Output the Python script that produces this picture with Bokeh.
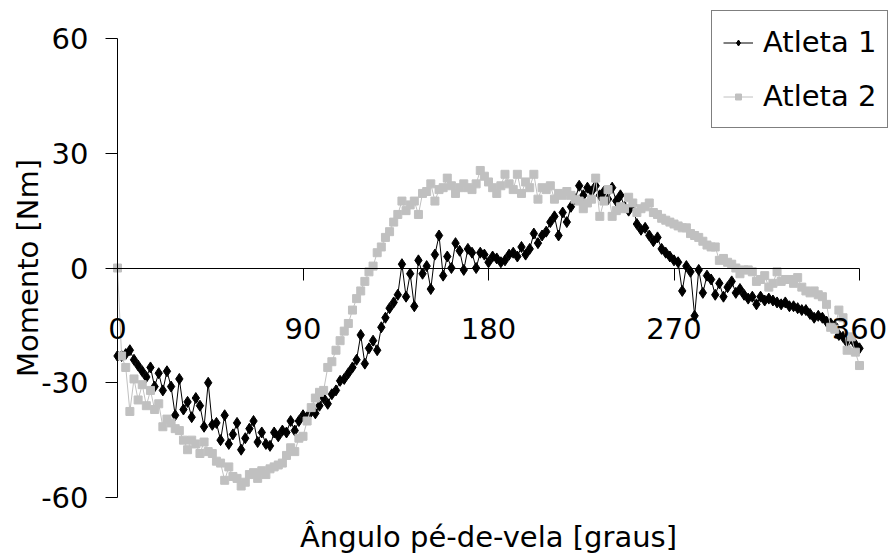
from bokeh.plotting import figure
from bokeh.models import Range1d, FixedTicker, LinearAxis, Legend, LegendItem
from bokeh.embed import file_html
from bokeh.resources import INLINE

FONT = "DejaVu Sans"
FONT_SIZE = "29px"

# Crank angle [degrees] and pedal moment [Nm] for each athlete
angle_a1 = list(range(0, 361, 2))
moment_a1 = [
    -23, -23, -22.5, -21.5, -24, -25.5, -27, -28.5, -26, -31,
    -27.5, -32, -27, -31, -38.5, -29, -37, -35, -39, -34,
    -36, -41.5, -30, -41, -40.5, -45, -38.5, -46, -43.5, -40.5,
    -47.5, -44.5, -42, -40, -45.5, -43, -46, -46.5, -43, -44,
    -42.5, -43, -40, -42.5, -40, -38.5, -39, -37.5, -38, -36,
    -34, -35.5, -33, -32, -29.5, -29, -27.5, -26, -24, -17.5,
    -25, -21, -19, -21.5, -15.5, -13, -10.5, -9, -7, 1,
    -7.5, -1.5, -10, 2, -1.5, 0.5, -5.5, 3.5, 8.5, -2,
    3, 0, 6.5, 4.5, -0.5, 5, 4, 0, 4, 3.5,
    1.5, 3, 2.5, 1.5, 2, 3.5, 4, 3, 5.5, 3.5,
    5, 9, 6.5, 8.5, 9.5, 12, 13.5, 8.5, 14.5, 12,
    16, 18, 21.5, 19, 21, 20, 21.5, 19, 20, 18,
    21, 17.5, 19, 16, 15, 16.5, 11.5, 10, 10.5, 8.5,
    7, 8, 5, 4, 3, 2, 1.5, -6, 0.5, -1,
    -12.5, -0.5, -6.5, -2, -3, -7, -4, -7.5, -5, -3.5,
    -6.5, -5.5, -7, -8, -7.5, -9.5, -7.5, -8.5, -8, -8.5,
    -9, -9.5, -9, -10, -10, -10.5, -11, -11, -12, -13,
    -12.5, -13, -14, -14.5, -15, -17.5, -18, -19.5, -18.5, -20,
    -21,
]

angle_a2 = list(range(0, 361, 2))
moment_a2 = [
    0, -23, -26, -37.5, -29, -34.5, -30.5, -36, -32, -37,
    -35.5, -41.5, -39.5, -40.5, -42, -42.5, -45, -47.5, -45, -46,
    -48.5, -45.5, -48, -48.5, -50.5, -51, -55.5, -52, -54.5, -55,
    -57, -56, -54, -53.5, -55, -53, -54, -52.5, -52, -51.5,
    -51, -49, -47, -48, -44.5, -44, -40, -36.5, -34, -32.5,
    -32, -26, -24.5, -21.5, -19, -16.5, -14.5, -11, -8, -6,
    -3.5, -1, 0.5, 4, 5.5, 8, 9.5, 12, 14, 17.5,
    15, 16.5, 17.5, 14, 19.5, 20, 22, 17.5, 20.5, 21,
    23.5, 21.5, 19.5, 21, 22, 21, 20.5, 22, 25.5, 24,
    22.5, 21, 19.5, 21.5, 24.5, 22, 20.5, 24.5, 19.5, 22.5,
    21, 24.5, 18, 21, 20.5, 21.5, 18, 19.5, 19, 20,
    19, 18, 17.5, 15.5, 17, 18, 23.5, 13.5, 17.5, 20.5,
    13.5, 15, 16, 15.5, 18.5, 17, 14.5, 15.5, 16, 17,
    14.5, 14, 13, 12.5, 12, 11.5, 11, 10.5, 10.5, 9,
    8.5, 8, 7, 6, 5.5, 5.5, 2, 2.5, 1.5, 1,
    0, -1.5, -0.5, -0.5, -1, -3.5, -3, -2, -5, -4,
    -1, -3.5, -3, -3, -4, -2.5, -5, -6, -6.5, -6,
    -7, -7.5, -9.5, -15.5, -16, -11, -13, -21.5, -18, -22,
    -25.5,
]

series_names = ["Atleta 1", "Atleta 2"]
x_ticks = [0, 90, 180, 270, 360]
y_ticks = [-60, -30, 0, 30, 60]
y_tick_text = {t: str(t) for t in y_ticks}

# Canvas layout: data box (0..360, -60..60) sits at these pixel edges
W, H = 889, 558
BOX_L, BOX_R, BOX_T, BOX_B = 117, 859, 38, 497
X0, X1, Y0, Y1 = 0, 360, -60, 60
ppx = (BOX_R - BOX_L) / (X1 - X0)
ppy = (BOX_B - BOX_T) / (Y1 - Y0)
x_range = Range1d(X0 - BOX_L / ppx, X1 + (W - BOX_R) / ppx)
y_range = Range1d(Y0 - (H - BOX_B) / ppy, Y1 + BOX_T / ppy)

p = figure(
    width=W, height=H,
    x_range=x_range, y_range=y_range,
    output_backend="svg", toolbar_location=None,
    min_border=0,
)
p.grid.visible = False
p.outline_line_color = None
p.background_fill_color = "white"
p.border_fill_color = "white"

# Athlete 1: black line with diamonds; athlete 2: light grey line with squares
l1 = p.line(angle_a1, moment_a1, line_color="black", line_width=1)
m1 = p.scatter(angle_a1, moment_a1, marker="diamond", size=11,
               fill_color="black", line_color="black")
l2 = p.line(angle_a2, moment_a2, line_color="#c0c0c0", line_width=1)
m2 = p.scatter(angle_a2, moment_a2, marker="square", size=8,
               fill_color="#c0c0c0", line_color="#c0c0c0")

# Horizontal axis crosses at zero moment
xa = p.xaxis[0]
xa.fixed_location = 0
xa.bounds = (X0, X1)
xa.ticker = FixedTicker(ticks=x_ticks)
xa.major_tick_out = 12
xa.major_tick_in = 0
xa.minor_tick_out = 0
xa.minor_tick_in = 0
xa.major_label_standoff = 38
xa.major_label_text_font = FONT
xa.major_label_text_font_size = FONT_SIZE
xa.major_label_text_color = "black"
xa.axis_line_color = "black"
xa.major_tick_line_color = "black"

# Vertical axis at zero angle
ya = p.yaxis[0]
ya.fixed_location = 0
ya.bounds = (Y0, Y1)
ya.ticker = FixedTicker(ticks=y_ticks)
ya.major_label_overrides = y_tick_text
ya.major_tick_out = 12
ya.major_tick_in = 0
ya.minor_tick_out = 0
ya.minor_tick_in = 0
ya.major_label_standoff = 17
ya.major_label_text_font = FONT
ya.major_label_text_font_size = FONT_SIZE
ya.major_label_text_color = "black"
ya.axis_line_color = "black"
ya.major_tick_line_color = "black"
ya.axis_label = "Momento [Nm]"
ya.axis_label_text_font = FONT
ya.axis_label_text_font_size = FONT_SIZE
ya.axis_label_text_font_style = "normal"
ya.axis_label_text_color = "black"
ya.axis_label_standoff = -7

# Title of the horizontal axis under the data box
title_axis = LinearAxis(
    fixed_location=Y0,
    bounds=(X0, X1),
    ticker=FixedTicker(ticks=[]),
    axis_label="Ângulo pé-de-vela [graus]",
    axis_line_color=None,
    major_tick_line_color=None,
    minor_tick_line_color=None,
    axis_label_standoff=22,
    axis_label_text_font=FONT,
    axis_label_text_font_size=FONT_SIZE,
    axis_label_text_font_style="normal",
    axis_label_text_color="black",
)
p.add_layout(title_axis, "below")

legend = Legend(
    items=[
        LegendItem(label=series_names[0], renderers=[l1, m1]),
        LegendItem(label=series_names[1], renderers=[l2, m2]),
    ],
    location=(711, H - 128),
    label_text_font=FONT,
    label_text_font_size=FONT_SIZE,
    label_text_color="black",
    border_line_color="black",
    border_line_width=1,
    background_fill_color="white",
    background_fill_alpha=1,
    padding=11,
    spacing=14,
    glyph_width=30,
    glyph_height=15,
    label_height=40,
    label_standoff=10,
    margin=0,
)
p.add_layout(legend)

open("out.html", "w").write(file_html(p, INLINE))
